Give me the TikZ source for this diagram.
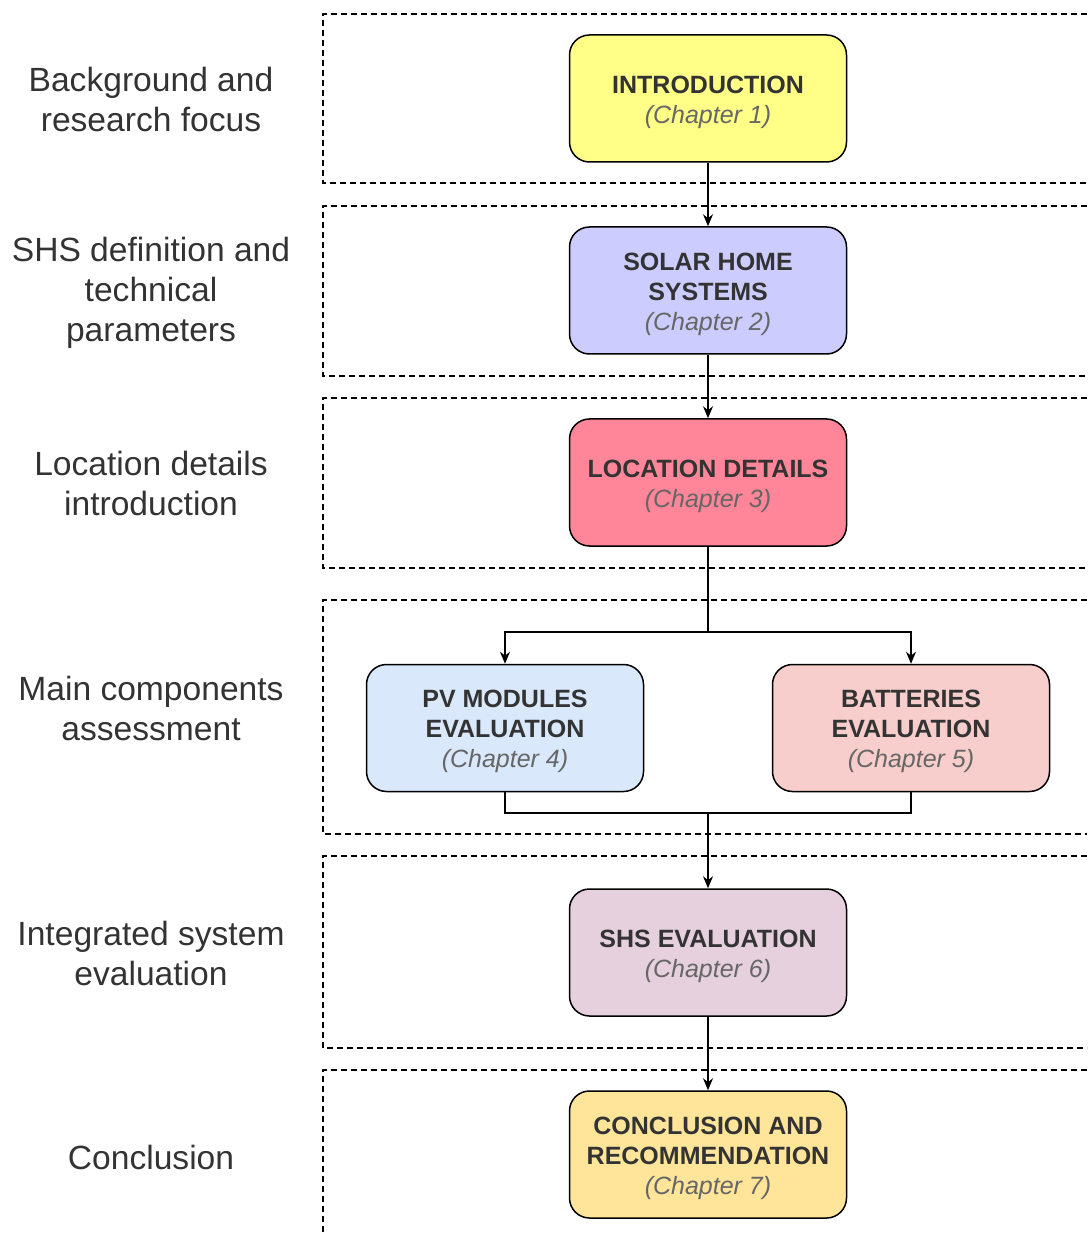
\documentclass[tikz,border=0pt]{standalone}
\usepackage{fontspec}
\setmainfont{Liberation Sans}
\usetikzlibrary{arrows.meta}

\definecolor{txtgray}{HTML}{333333}
\definecolor{chapgray}{HTML}{666666}
\definecolor{introfill}{HTML}{FFFF88}
\definecolor{shsfill}{HTML}{CCCCFF}
\definecolor{locfill}{HTML}{FF8699}
\definecolor{pvfill}{HTML}{DAE8FC}
\definecolor{battfill}{HTML}{F8CECC}
\definecolor{evalfill}{HTML}{E6D0DE}
\definecolor{conclfill}{HTML}{FFE599}

\newcommand{\chapno}[1]{{\mdseries\itshape\color{chapgray}(Chapter #1)}}
\newcommand{\toppad}{\rule{0pt}{12.5pt}}

\begin{document}
\begin{tikzpicture}[x=0.5pt, y=0.5pt, ->, >={Stealth[length=6pt,width=5pt]}, node distance=96pt, line width=0.75pt,
    chap/.style={rectangle, rounded corners=10pt, draw, minimum width=138.5pt, minimum height=63.5pt, align=center, text=txtgray, font=\fontsize{12.5}{15}\selectfont\bfseries},
    lbl/.style={align=center, text=txtgray, font=\fontsize{16.8}{20}\selectfont},
    band/.style={-, dashed, dash pattern=on 3pt off 2pt}]
        \useasboundingbox (0,0) rectangle (1087,-1234);

        % Bandes
        \draw[band] (1087,-14) -- (323,-14) -- (323,-183) -- (1087,-183);
        \draw[band] (1087,-206) -- (323,-206) -- (323,-376) -- (1087,-376);
        \draw[band] (1087,-398) -- (323,-398) -- (323,-568) -- (1087,-568);
        \draw[band] (1087,-600) -- (323,-600) -- (323,-834) -- (1087,-834);
        \draw[band] (1087,-856) -- (323,-856) -- (323,-1048) -- (1087,-1048);
        \draw[band] (1087,-1070) -- (323,-1070) -- (323,-1234);

        % Etiquettes
        \node[lbl] (l1) at (151,-99) {Background and\\research focus};
        \node[lbl] (l2) at (151,-293) {SHS definition and\\technical\\parameters};
        \node[lbl] (l3) at (151,-483) {Location details\\introduction};
        \node[lbl] (l4) at (151,-708) {Main components\\assessment};
        \node[lbl] (l5) at (151,-953) {Integrated system\\evaluation};
        \node[lbl] (l6) at (151,-1157) {Conclusion};

        % Chapitres
        \node[chap, fill=introfill] (intro) at (708,-98.5) {\toppad INTRODUCTION\\\chapno{1}};
        \node[chap, fill=shsfill, below of=intro] (shs) {\toppad SOLAR HOME\\SYSTEMS\\\chapno{2}};
        \node[chap, fill=locfill, below of=shs] (loc) {\toppad LOCATION DETAILS\\\chapno{3}};
        \node[chap, fill=pvfill] (pv) at (505,-728) {\toppad PV MODULES\\EVALUATION\\\chapno{4}};
        \node[chap, fill=battfill, right of=pv, node distance=203pt] (batt) {\toppad BATTERIES\\EVALUATION\\\chapno{5}};
        \node[chap, fill=evalfill] (eval) at (708,-952.5) {\toppad SHS EVALUATION\\\chapno{6}};
        \node[chap, fill=conclfill, below of=eval, node distance=101pt] (concl) {\toppad CONCLUSION AND\\RECOMMENDATION\\\chapno{7}};

        % Liens
        \coordinate (split) at (708,-632);
        \coordinate (join) at (708,-813);
        \draw (intro) -- (shs);
        \draw (shs) -- (loc);
        \draw (loc) -- (split) -| (pv);
        \draw (split) -| (batt);
        \draw[-] (pv.south) |- (join) -| (batt.south);
        \draw (join) -- (eval);
        \draw (eval) -- (concl);
    \end{tikzpicture}
\end{document}
